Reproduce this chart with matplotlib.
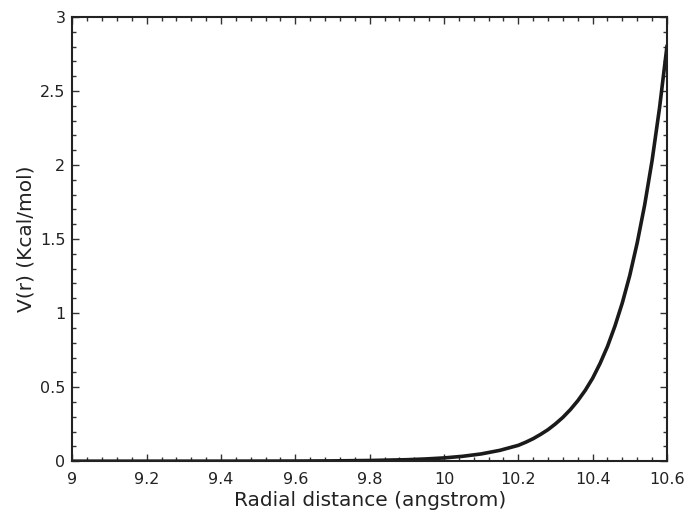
import numpy as np
import matplotlib
matplotlib.use('Agg')
import matplotlib.pyplot as plt
from matplotlib.ticker import MultipleLocator

# radial distance (angstrom) and potential (Kcal/mol)
r = [9.0, 9.2, 9.4, 9.6, 9.7, 9.8, 9.9, 9.95, 10.0, 10.05, 10.1, 10.15, 10.2,
     10.22, 10.24, 10.26, 10.28, 10.30, 10.32, 10.34, 10.36, 10.38, 10.40,
     10.42, 10.44, 10.46, 10.48, 10.50, 10.52, 10.54, 10.56, 10.58, 10.60]
v = [0.0, 0.00004, 0.0002, 0.0009, 0.002, 0.0047, 0.010, 0.015, 0.022, 0.033,
     0.049, 0.073, 0.107, 0.128, 0.152, 0.181, 0.213, 0.252, 0.296, 0.348,
     0.408, 0.478, 0.560, 0.660, 0.775, 0.912, 1.07, 1.255, 1.475, 1.73,
     2.03, 2.385, 2.80]

xticks = [9, 9.2, 9.4, 9.6, 9.8, 10, 10.2, 10.4, 10.6]
xlabels = ['9', '9.2', '9.4', '9.6', '9.8', '10', '10.2', '10.4', '10.6']
yticks = [0, 0.5, 1, 1.5, 2, 2.5, 3]
ylabels = ['0', '0.5', '1', '1.5', '2', '2.5', '3']

fig = plt.figure(figsize=(6.89, 5.13), dpi=100)
ax = fig.add_axes([0.105, 0.101, 0.863, 0.866])

ax.plot(r, v, color='#1a1a1a', lw=2.6)

ax.set_xlim(9, 10.6)
ax.set_ylim(0, 3)
ax.set_xticks(xticks)
ax.set_xticklabels(xlabels)
ax.set_yticks(yticks)
ax.set_yticklabels(ylabels)
ax.xaxis.set_minor_locator(MultipleLocator(0.04))
ax.yaxis.set_minor_locator(MultipleLocator(0.1))

ax.tick_params(which='both', direction='in', top=True, right=True,
               labelsize=11.5, color='#333333', labelcolor='#222222')
ax.tick_params(which='major', length=5, width=1)
ax.tick_params(axis='x', which='major', pad=7.5)
ax.tick_params(axis='y', which='major', pad=5)
ax.tick_params(which='minor', length=3, width=1)
for s in ax.spines.values():
    s.set_linewidth(1.5)
    s.set_color('#222222')

ax.set_xlabel('Radial distance (angstrom)', fontsize=14.5, color='#222222', labelpad=3)
ax.set_ylabel('V(r) (Kcal/mol)', fontsize=14.5, color='#222222', labelpad=3)

fig.savefig('out.png', dpi=100)
